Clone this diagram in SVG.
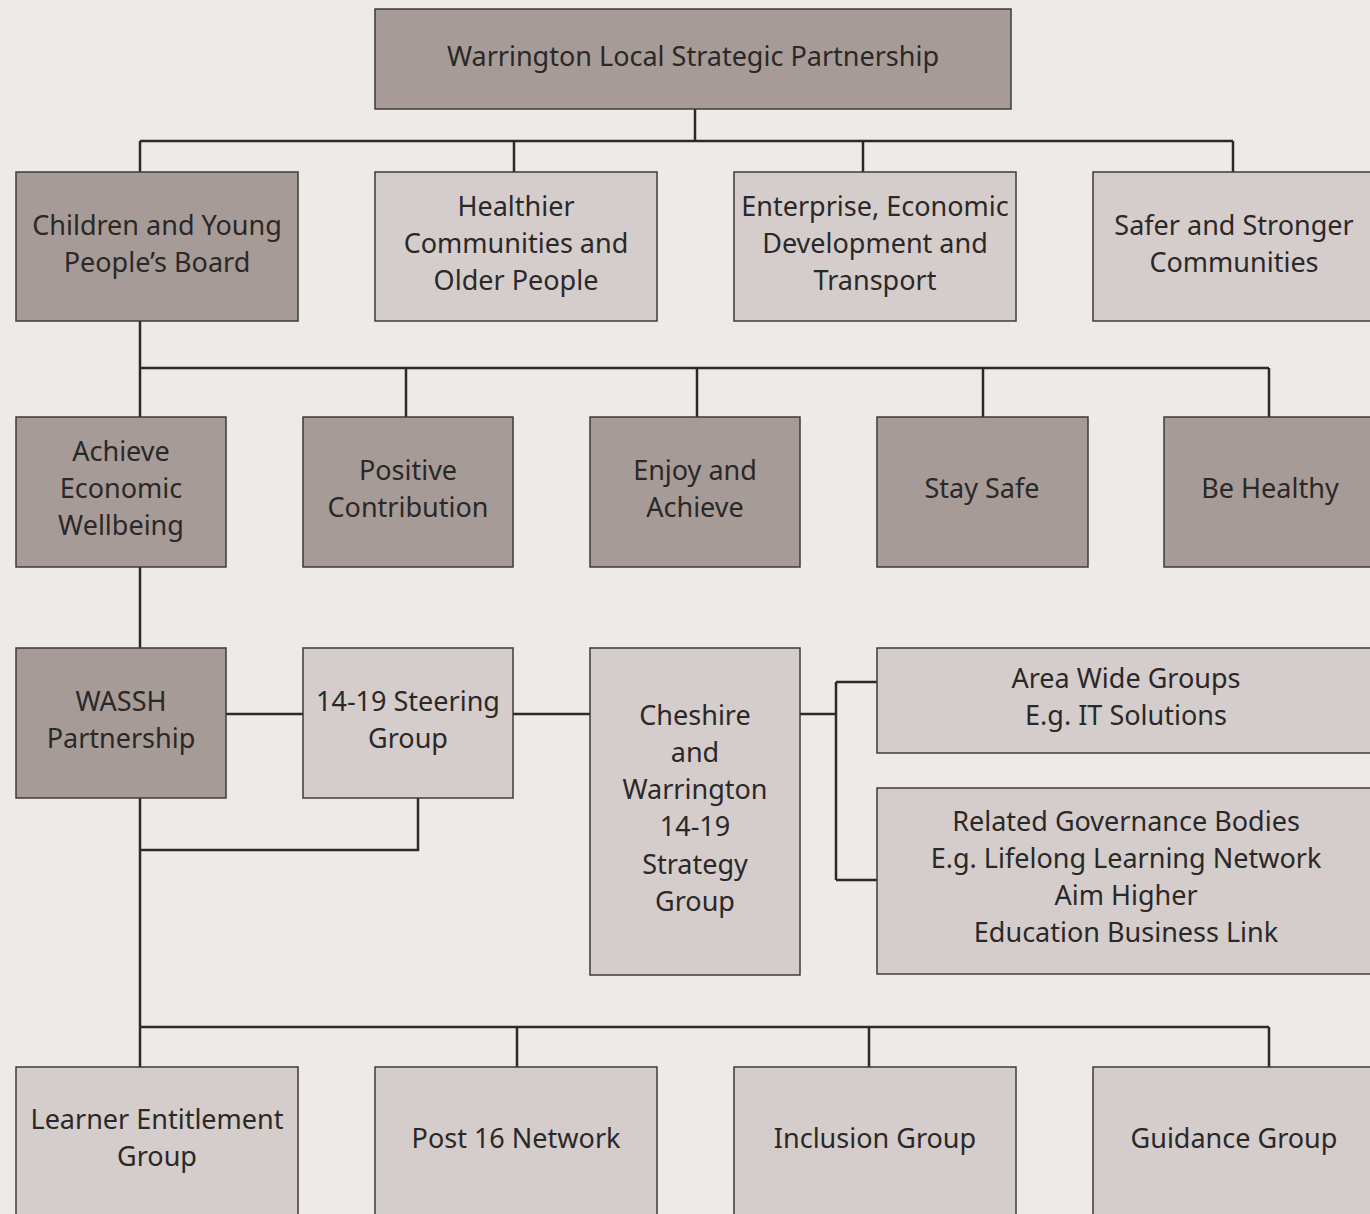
<svg xmlns="http://www.w3.org/2000/svg" width="1370" height="1214" viewBox="0 0 1370 1214">
<style>
.bg{fill:#EEEAE8}
.dk{fill:#A79B97;stroke:#3e3b3b;stroke-width:1.5}
.lt{fill:#D5CDCB;stroke:#3e3b3b;stroke-width:1.5}
.t{font-family:"Noto Sans","Open Sans","Liberation Sans",sans-serif;font-size:27px;fill:#2a2828;text-anchor:middle}
.c{fill:none;stroke:#2b2929;stroke-width:2.5}
</style>
<rect class="bg" x="0" y="0" width="1370" height="1214"/>
<g id="connectors">
<path class="c" d="M695 109V141M140 141H1233M140 141V172M514 141V172M863 141V172M1233 141V172"/>
<path class="c" d="M140 321V417M140 368H1269M406 368V417M697 368V417M983 368V417M1269 368V417"/>
<path class="c" d="M140 567V648"/>
<path class="c" d="M226 714H303M513 714H590M800 714H836M836 682V880M836 682H877M836 880H877"/>
<path class="c" d="M140 798V1067M418 798V850H140"/>
<path class="c" d="M140 1027H1269M517 1027V1067M869 1027V1067M1269 1027V1067"/>
</g>
<g id="lsp"><rect class="dk" x="375" y="9" width="636" height="100"/><text class="t" x="693" y="66">Warrington Local Strategic Partnership</text></g>
<g id="cypb"><rect class="dk" x="16" y="172" width="282" height="149"/><text class="t" x="157" y="235">Children and Young</text><text class="t" x="157" y="272">People’s Board</text></g>
<g id="healthier"><rect class="lt" x="375" y="172" width="282" height="149"/><text class="t" x="516" y="216">Healthier</text><text class="t" x="516" y="253">Communities and</text><text class="t" x="516" y="290">Older People</text></g>
<g id="enterprise"><rect class="lt" x="734" y="172" width="282" height="149"/><text class="t" x="875" y="216">Enterprise, Economic</text><text class="t" x="875" y="253">Development and</text><text class="t" x="875" y="290">Transport</text></g>
<g id="safer"><rect class="lt" x="1093" y="172" width="283" height="149"/><text class="t" x="1234" y="235">Safer and Stronger</text><text class="t" x="1234" y="272">Communities</text></g>
<g id="achieve"><rect class="dk" x="16" y="417" width="210" height="150"/><text class="t" x="121" y="461">Achieve</text><text class="t" x="121" y="498">Economic</text><text class="t" x="121" y="535">Wellbeing</text></g>
<g id="positive"><rect class="dk" x="303" y="417" width="210" height="150"/><text class="t" x="408" y="480">Positive</text><text class="t" x="408" y="517">Contribution</text></g>
<g id="enjoy"><rect class="dk" x="590" y="417" width="210" height="150"/><text class="t" x="695" y="480">Enjoy and</text><text class="t" x="695" y="517">Achieve</text></g>
<g id="staysafe"><rect class="dk" x="877" y="417" width="211" height="150"/><text class="t" x="982" y="498">Stay Safe</text></g>
<g id="behealthy"><rect class="dk" x="1164" y="417" width="212" height="150"/><text class="t" x="1270" y="498">Be Healthy</text></g>
<g id="wassh"><rect class="dk" x="16" y="648" width="210" height="150"/><text class="t" x="121" y="711">WASSH</text><text class="t" x="121" y="748">Partnership</text></g>
<g id="steering"><rect class="lt" x="303" y="648" width="210" height="150"/><text class="t" x="408" y="711">14-19 Steering</text><text class="t" x="408" y="748">Group</text></g>
<g id="cheshire"><rect class="lt" x="590" y="648" width="210" height="327"/><text class="t" x="695" y="725">Cheshire</text><text class="t" x="695" y="762">and</text><text class="t" x="695" y="799">Warrington</text><text class="t" x="695" y="836">14-19</text><text class="t" x="695" y="874">Strategy</text><text class="t" x="695" y="911">Group</text></g>
<g id="areawide"><rect class="lt" x="877" y="648" width="499" height="105"/><text class="t" x="1126" y="688">Area Wide Groups</text><text class="t" x="1126" y="725">E.g. IT Solutions</text></g>
<g id="related"><rect class="lt" x="877" y="788" width="499" height="186"/><text class="t" x="1126" y="831">Related Governance Bodies</text><text class="t" x="1126" y="868">E.g. Lifelong Learning Network</text><text class="t" x="1126" y="905">Aim Higher</text><text class="t" x="1126" y="942">Education Business Link</text></g>
<g id="learner"><rect class="lt" x="16" y="1067" width="282" height="150"/><text class="t" x="157" y="1129">Learner Entitlement</text><text class="t" x="157" y="1166">Group</text></g>
<g id="post16"><rect class="lt" x="375" y="1067" width="282" height="150"/><text class="t" x="516" y="1148">Post 16 Network</text></g>
<g id="inclusion"><rect class="lt" x="734" y="1067" width="282" height="150"/><text class="t" x="875" y="1148">Inclusion Group</text></g>
<g id="guidance"><rect class="lt" x="1093" y="1067" width="283" height="150"/><text class="t" x="1234" y="1148">Guidance Group</text></g>
</svg>
